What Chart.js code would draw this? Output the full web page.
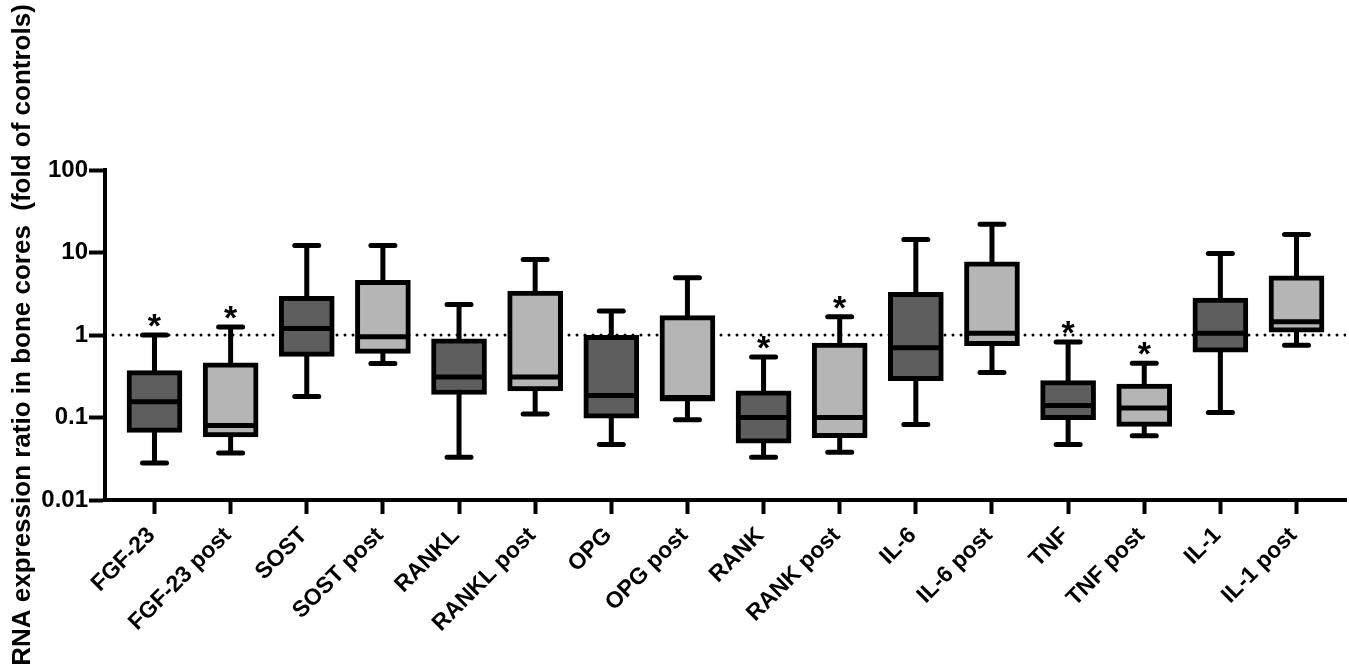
<!DOCTYPE html>
<html>
<head>
<meta charset="utf-8">
<script src="https://cdn.jsdelivr.net/npm/chart.js@4"></script>
<style>
  html, body { margin: 0; padding: 0; background: #fff; }
  #wrap { width: 1349px; height: 671px; }
</style>
</head>
<body>
<div id="wrap"><canvas id="boxChart"></canvas></div>
<script>
// values (fold of controls)
var categories = ['FGF-23', 'FGF-23 post', 'SOST', 'SOST post', 'RANKL', 'RANKL post',
  'OPG', 'OPG post', 'RANK', 'RANK post', 'IL-6', 'IL-6 post', 'TNF', 'TNF post', 'IL-1', 'IL-1 post'];
var whiskerMin = [0.028, 0.037, 0.18, 0.45, 0.033, 0.11, 0.047, 0.094, 0.033, 0.038, 0.082, 0.35, 0.047, 0.06, 0.115, 0.75];
var q1 = [0.066, 0.058, 0.55, 0.6, 0.19, 0.21, 0.098, 0.158, 0.049, 0.057, 0.28, 0.74, 0.094, 0.078, 0.62, 1.08];
var median = [0.155, 0.08, 1.2, 0.95, 0.31, 0.31, 0.185, 0.175, 0.1, 0.1, 0.7, 1.05, 0.14, 0.13, 1.05, 1.45];
var q3 = [0.37, 0.46, 2.95, 4.6, 0.9, 3.4, 0.99, 1.72, 0.21, 0.8, 3.3, 7.7, 0.28, 0.255, 2.8, 5.2];
var whiskerMax = [1.0, 1.25, 12.2, 12.2, 2.35, 8.2, 1.96, 4.95, 0.54, 1.66, 14.4, 22, 0.82, 0.455, 9.7, 16.5];
var significant = [true, true, false, false, false, false, false, false, true, true, false, false, true, true, false, false];
var yTicks = [0.01, 0.1, 1, 10, 100];
var refLevel = 1;

var FONT = "'Liberation Sans', Arial, sans-serif";
var darkFill = '#5e5e5e';
var lightFill = '#b5b5b5';

var boxData = categories.map(function (c, i) { return { x: i, y: [q1[i], q3[i]] }; });
var boxColors = categories.map(function (c, i) { return i % 2 === 0 ? darkFill : lightFill; });

// whiskers under the boxes, medians and stars on top
var boxPlotPlugin = {
  id: 'boxPlotExtras',
  beforeDatasetsDraw: function (chart) {
    var ctx = chart.ctx, xs = chart.scales.x, ys = chart.scales.y;
    ctx.save();
    ctx.strokeStyle = '#000';
    ctx.lineWidth = 5;
    ctx.lineCap = 'round';
    for (var i = 0; i < categories.length; i++) {
      var x = xs.getPixelForValue(i);
      var yMin = ys.getPixelForValue(whiskerMin[i]);
      var yMax = ys.getPixelForValue(whiskerMax[i]);
      ctx.beginPath();
      ctx.moveTo(x, yMin); ctx.lineTo(x, yMax);
      ctx.moveTo(x - 12, yMin); ctx.lineTo(x + 12, yMin);
      ctx.moveTo(x - 12, yMax); ctx.lineTo(x + 12, yMax);
      ctx.stroke();
    }
    ctx.restore();
  },
  afterDatasetsDraw: function (chart) {
    var ctx = chart.ctx, xs = chart.scales.x, ys = chart.scales.y;
    ctx.save();
    ctx.strokeStyle = '#000';
    ctx.lineWidth = 5;
    ctx.lineCap = 'butt';
    var half = 25;
    for (var i = 0; i < categories.length; i++) {
      var x = xs.getPixelForValue(i);
      var y = ys.getPixelForValue(median[i]);
      ctx.beginPath();
      ctx.moveTo(x - half, y); ctx.lineTo(x + half, y);
      ctx.stroke();
      if (significant[i]) {
        ctx.fillStyle = '#000';
        ctx.font = 'bold 34px ' + FONT;
        ctx.textAlign = 'center';
        ctx.textBaseline = 'alphabetic';
        ctx.fillText('*', x, ys.getPixelForValue(whiskerMax[i]) + 2);
      }
    }
    ctx.restore();
  }
};

var config = {
  type: 'bar',
  data: {
    datasets: [{
      type: 'bar',
      data: boxData,
      backgroundColor: boxColors,
      borderColor: '#000',
      borderWidth: 5,
      borderSkipped: false,
      barThickness: 55,
      order: 0
    }, {
      type: 'line',
      data: [{ x: -0.65, y: refLevel }, { x: 15.65, y: refLevel }],
      borderColor: '#000',
      borderWidth: 3,
      borderDash: [0, 8],
      borderCapStyle: 'round',
      pointRadius: 0,
      fill: false,
      order: 1
    }]
  },
  options: {
    responsive: true,
    maintainAspectRatio: false,
    animation: false,
    layout: { padding: { top: 170, right: 3, left: 0, bottom: 0 } },
    plugins: {
      legend: { display: false },
      title: { display: false },
      tooltip: { enabled: false }
    },
    scales: {
      x: {
        type: 'linear',
        offset: false,
        min: -0.65,
        max: 15.65,
        afterBuildTicks: function (scale) {
          scale.ticks = categories.map(function (c, i) { return { value: i }; });
        },
        afterFit: function (scale) { scale.height = 171; },
        grid: { offset: false, drawOnChartArea: false, drawTicks: true, tickLength: 14, tickWidth: 4, tickColor: '#000' },
        border: { display: true, width: 4, color: '#000' },
        ticks: {
          autoSkip: false,
          maxRotation: 45,
          minRotation: 45,
          padding: 8,
          labelOffset: -3,
          color: '#000',
          font: { family: FONT, size: 23, weight: 'bold' },
          callback: function (v) { return categories[v]; }
        }
      },
      y: {
        type: 'logarithmic',
        min: 0.01,
        max: 100,
        afterBuildTicks: function (scale) {
          scale.ticks = yTicks.map(function (v) { return { value: v, major: true }; });
        },
        afterFit: function (scale) { scale.width = 105; },
        grid: { drawOnChartArea: false, drawTicks: true, tickLength: 16, tickWidth: 4, tickColor: '#000' },
        border: { display: true, width: 4, color: '#000' },
        ticks: {
          padding: 1,
          color: '#000',
          font: { family: FONT, size: 24, weight: 'bold' },
          callback: function (v) { return String(v); }
        },
        title: {
          display: true,
          text: 'RNA expression ratio in bone cores  (fold of controls)',
          color: '#000',
          padding: { top: 7, bottom: 4 },
          font: { family: FONT, size: 26, weight: 'bold' }
        }
      }
    }
  },
  plugins: [boxPlotPlugin]
};

var ctx = document.getElementById('boxChart');
if (ctx) {
  ctx = ctx.getContext('2d');
  window.boxChart = new Chart(ctx, config);
}
</script>
</body>
</html>
